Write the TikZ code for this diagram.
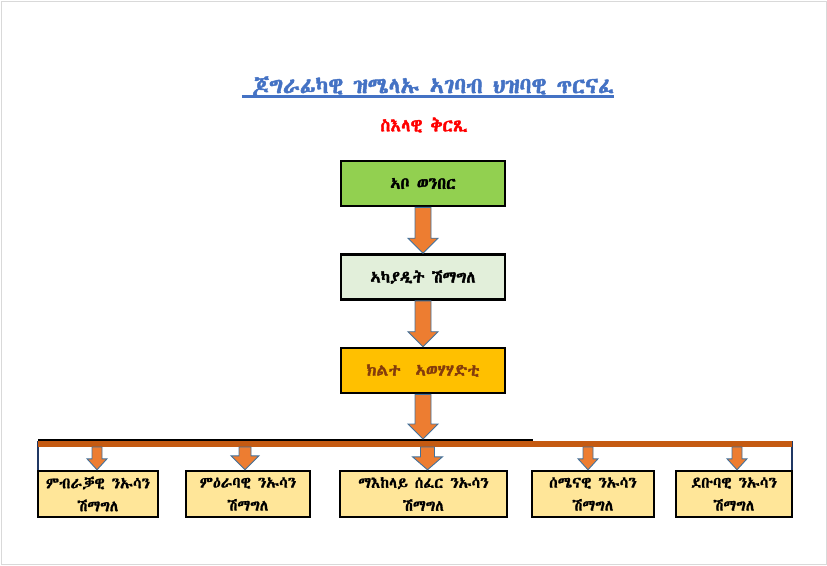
\documentclass[tikz,border=0pt]{standalone}
\usepackage{fontspec}
\usetikzlibrary{calc}
\IfFontExistsTF{Abyssinica SIL}{\newfontfamily\eth[FakeBold=1.1]{Abyssinica SIL}\newfontfamily\ethb[FakeBold=2]{Abyssinica SIL}}{%
 \IfFontExistsTF{FreeSerif}{\newfontfamily\eth[FakeBold=1.1]{FreeSerif}\newfontfamily\ethb[FakeBold=2]{FreeSerif}}{\newfontfamily\eth{DejaVu Sans}\newfontfamily\ethb{DejaVu Sans}}}
\definecolor{frame}{HTML}{D9D9D9}
\definecolor{ttlblue}{HTML}{4472C4}
\definecolor{arrfill}{HTML}{ED7D31}
\definecolor{arrline}{HTML}{41719C}
\definecolor{barcol}{HTML}{C55A11}
\definecolor{navy}{HTML}{203864}
\definecolor{g1}{HTML}{92D050}
\definecolor{g2}{HTML}{E2EFDA}
\definecolor{gold}{HTML}{FFC000}
\definecolor{brownt}{HTML}{843C0C}
\definecolor{lowfill}{HTML}{FFE699}
\tikzset{
 topbox/.style={draw=black,line width=2.6pt,minimum width=164pt,minimum height=45pt,inner sep=0pt,
   font=\ethb\fontsize{16.5}{19}\selectfont},
 lowbox/.style={draw=black,line width=2.4pt,minimum height=46pt,inner sep=0pt,align=center,
   font=\eth\fontsize{15.5}{23}\selectfont},
 arrstyle/.style={fill=arrfill,draw=arrline,line width=0.9pt,line join=miter}
}
\newcommand\blockarr[5]{%
 \draw[arrstyle] let \p1=(#1), \p2=(#2) in
  (\x1-#3,\y1) -- (\x1+#3,\y1) -- (\x1+#3,\y2+#5) -- (\x1+#4,\y2+#5) -- (\x1,\y2)
  -- (\x1-#4,\y2+#5) -- (\x1-#3,\y2+#5) -- cycle;}
\begin{document}
\begin{tikzpicture}[x=1pt,y=-1pt]
\useasboundingbox (0,0) rectangle (827,565);
\draw[frame,line width=1pt] (1,1) rectangle (826,564);
% title
\node[inner sep=0pt,text=ttlblue,font=\ethb\fontsize{22.5}{26}\selectfont] (title) at (428,88)
 {\strut\ ጆግራፊካዊ ዝሜላኡ ኣገባብ ህዝባዊ ጥርናፈ};
\draw[ttlblue,line width=2.6pt] ([yshift=-3pt]title.base west) -- ([yshift=-3pt]title.base east);
\node[inner sep=0pt,text=red,font=\ethb\fontsize{18}{20}\selectfont] (sub) at (424,125) {ስእላዊ ቅርጺ};
% top boxes
\node[topbox,fill=g1] (b1) at (423,183.5) {ኣቦ ወንበር};
\node[topbox,fill=g2] (b2) at (423,277) {ኣካያዲት ሽማግለ};
\node[topbox,fill=gold,text=brownt] (b3) at (423,370.5) {ክልተ\ \ ኣወሃሃድቲ};
% bar
\coordinate (barL) at (38,444);
\coordinate (barR) at (792,444);
\coordinate (barT) at (428,439);
\coordinate (blackE) at (533,440);
% bottom boxes
\node[lowbox,fill=lowfill,minimum width=120pt] (c1) at (98,494) {ምብራቓዊ ንኡሳን\\ሽማግለ};
\node[lowbox,fill=lowfill,minimum width=124pt] (c2) at (248,494) {ምዕራባዊ ንኡሳን\\ሽማግለ};
\node[lowbox,fill=lowfill,minimum width=167pt] (c3) at (423.5,494) {ማእከላይ ሰፈር ንኡሳን\\ሽማግለ};
\node[lowbox,fill=lowfill,minimum width=122pt] (c4) at (593,494) {ሰሜናዊ ንኡሳን\\ሽማግለ};
\node[lowbox,fill=lowfill,minimum width=116pt] (c5) at (734,494) {ደቡባዊ ንኡሳን\\ሽማግለ};
% lines
\draw[navy,line width=1.4pt] (barL |- 0,441) -- (barL |- c1.north);
\draw[navy,line width=1.4pt] (barR |- 0,441) -- (barR |- c5.north);
\draw[black,line width=1.6pt] ([yshift=4pt]barL) -- (blackE);
\draw[barcol,line width=6pt] (barL) -- (barR);
% main arrows
\blockarr{b1.south}{b2.north}{8pt}{15pt}{15pt}
\blockarr{b2.south}{b3.north}{8pt}{15pt}{15pt}
\blockarr{b3.south}{barT}{8pt}{15pt}{15pt}
% small arrows
\blockarr{$(c1.north |- barL)+(-1,3)$}{$(c1.north)+(-1,0)$}{5pt}{10pt}{11pt}
\blockarr{$(c2.north |- barL)+(-3,3)$}{$(c2.north)+(-3,0)$}{6pt}{14pt}{14pt}
\blockarr{$(c3.north |- barL)+(4,3)$}{$(c3.north)+(4,0)$}{7pt}{15pt}{13pt}
\blockarr{$(c4.north |- barL)+(-5,3)$}{$(c4.north)+(-5,0)$}{5pt}{10pt}{11pt}
\blockarr{$(c5.north |- barL)+(3,3)$}{$(c5.north)+(3,0)$}{5pt}{10pt}{11pt}
\end{tikzpicture}
\end{document}
